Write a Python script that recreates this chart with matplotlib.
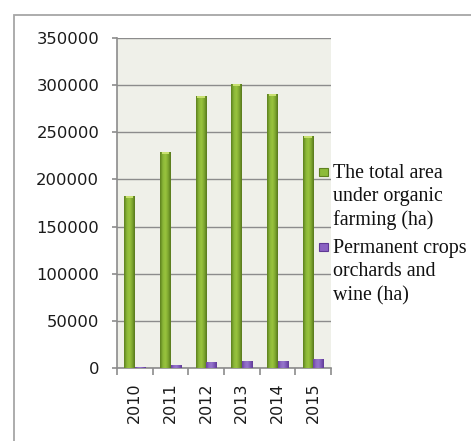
import numpy as np
import matplotlib
matplotlib.use("Agg")
import matplotlib.pyplot as plt
from matplotlib.patches import Rectangle
from matplotlib.colors import LinearSegmentedColormap

years = ["2010", "2011", "2012", "2013", "2014", "2015"]
total_area = [182000, 229500, 288500, 301500, 290300, 246000]
permanent_crops = [1400, 3200, 6400, 7800, 7700, 9500]
labels = [["The total area", "under organic", "farming (ha)"],
          ["Permanent crops", "orchards and", "wine (ha)"]]
yticks = [0, 50000, 100000, 150000, 200000, 250000, 300000, 350000]

W, H = 471, 441
fig = plt.figure(figsize=(W / 100, H / 100), dpi=100)
fig.patch.set_facecolor("white")

# outer frame (extends beyond image right/bottom)
fig.patches.append(Rectangle((14 / W, -0.2), 1.2, 1 - 15 / H + 0.2,
                             transform=fig.transFigure, fill=False,
                             edgecolor="#a6a6a6", linewidth=1.3))

ax = fig.add_axes([117 / W, 1 - 368 / H, (331 - 117) / W, (368 - 38) / H])
ax.set_facecolor("#eff0e9")

x = np.arange(len(years))
bw = 0.29
g_cmap = LinearSegmentedColormap.from_list(
    "g", ["#5a7d1c", "#8ab638", "#9ac43e", "#7fa830", "#55751b"])
p_cmap = LinearSegmentedColormap.from_list(
    "p", ["#6a3fa0", "#8c68c4", "#9676cc", "#7d58b8", "#5f3995"])

bars1 = ax.bar(x - bw / 2, total_area, width=bw, color="#86b035", zorder=3)
bars2 = ax.bar(x + bw / 2, permanent_crops, width=bw, color="#7e56b8", zorder=3)

grad = np.linspace(0, 1, 64).reshape(1, -1)
for bars, cmap, cap in ((bars1, g_cmap, "#c8e070"), (bars2, p_cmap, "#b9a2e0")):
    for b in bars:
        x0, y0 = b.get_x(), b.get_y()
        w, h = b.get_width(), b.get_height()
        im = ax.imshow(grad, extent=[x0, x0 + w, y0, y0 + h], aspect="auto",
                       cmap=cmap, zorder=3.5, interpolation="bicubic")
        im.set_clip_path(b)
        if h > 20000:
            ax.add_patch(Rectangle((x0 + w * 0.15, y0 + h - 2200), w * 0.7, 2200,
                                   facecolor=cap, edgecolor="none", zorder=3.6))

ax.set_xlim(-0.5, len(years) - 0.5)
ax.set_ylim(0, 350000)
ax.set_yticks(yticks)
ax.set_yticklabels([str(v) for v in yticks])
ax.yaxis.grid(True, color="#8c8c8c", linewidth=1.0, zorder=1)
ax.set_axisbelow(True)

ax.set_xticks(np.arange(-0.5, len(years)), minor=False)
ax.set_xticklabels([])
ax.set_xticks(x, minor=True)
ax.set_xticklabels(years, minor=True, rotation=90)

for s in ("top", "right"):
    ax.spines[s].set_visible(False)
for s in ("left", "bottom"):
    ax.spines[s].set_color("#8c8c8c")
    ax.spines[s].set_linewidth(1.2)

ax.tick_params(axis="y", which="major", length=3.8, color="#8c8c8c",
               width=1.2, pad=9, labelsize=11.8, labelcolor="#1a1a1a")
ax.tick_params(axis="x", which="major", length=5, color="#8c8c8c", width=1.2)
ax.tick_params(axis="x", which="minor", length=0, pad=10.5,
               labelsize=11.5, labelcolor="#1a1a1a")

# legend (drawn manually to keep marker aligned with the first line)
leg_font = dict(family=["Liberation Serif", "DejaVu Serif"], size=14.4)
first_baselines = [178, 253]
line_step = 23.5
marker_colors = [("#8dbb3a", "#5f821f"), ("#8a62c2", "#5f3995")]
for lines, yb, (fc, ec) in zip(labels, first_baselines, marker_colors):
    fig.patches.append(Rectangle((319 / W, 1 - (yb - 2) / H), 8.5 / W, 8.5 / H,
                                 transform=fig.transFigure, facecolor=fc,
                                 edgecolor=ec, linewidth=0.8))
    for i, ln in enumerate(lines):
        fig.text(333 / W, 1 - (yb + i * line_step) / H, ln, va="baseline",
                 ha="left", color="#111111", **leg_font)

fig.savefig("out.png", dpi=100, facecolor="white")
